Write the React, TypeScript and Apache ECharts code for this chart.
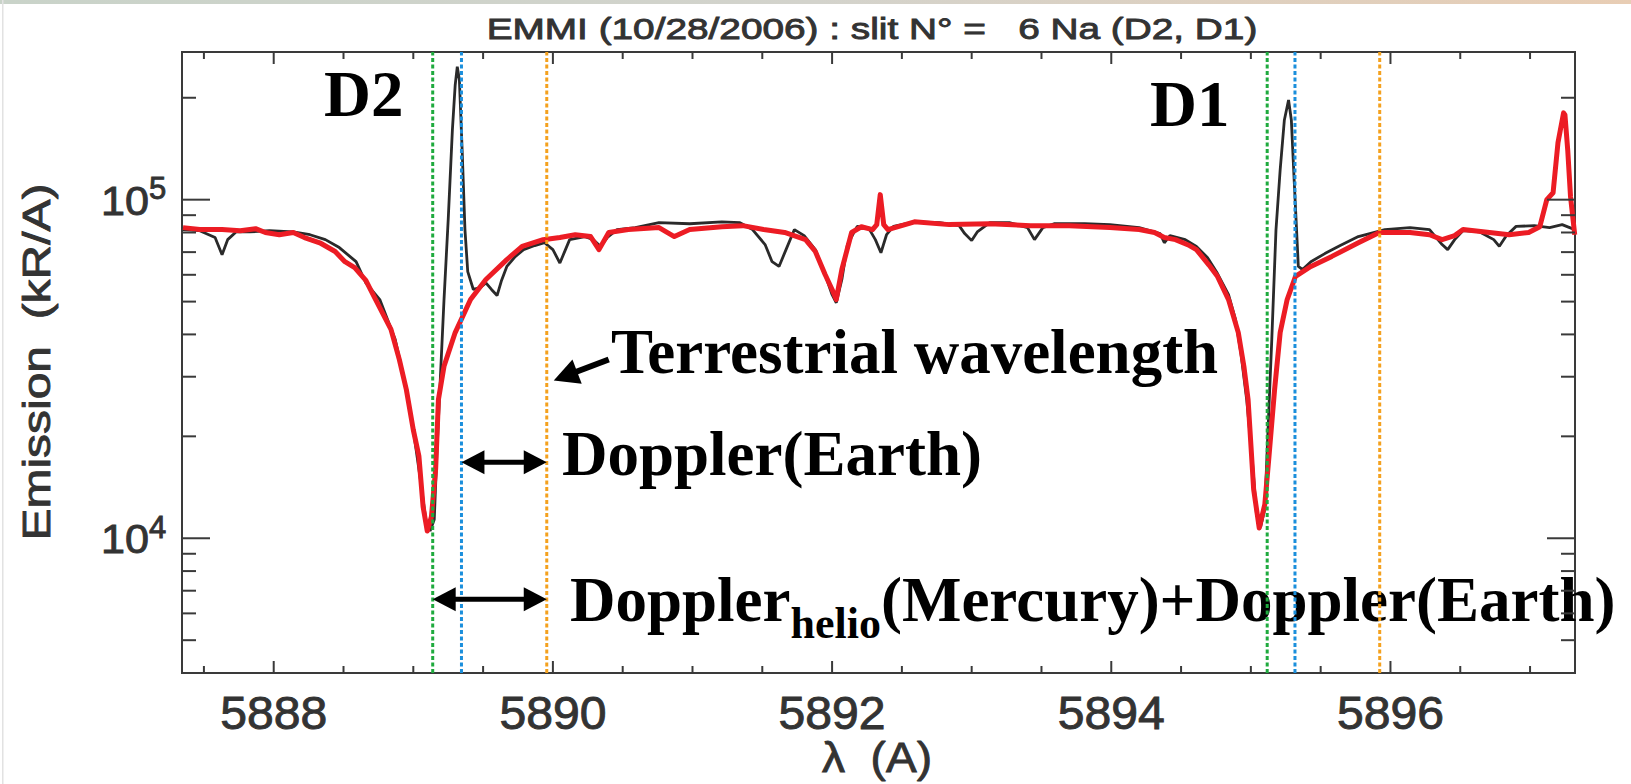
import React, { useEffect, useRef } from "react";
import * as echarts from "echarts";

// ---- axis extents (data units) ----
const X_MIN = 5887.343;
const X_MAX = 5897.322;
const Y_MIN = 4000;
const Y_MAX = 273000;

// ---- observed spectrum (black) [wavelength Å, emission kR/Å] ----
const observedSpectrum: [number, number][] = [
  [5887.35, 81600], [5887.47, 81000], [5887.58, 77300], [5887.63, 68800], [5887.67, 76200],
  [5887.73, 80300], [5887.83, 80300], [5887.97, 81000], [5888.14, 80300], [5888.26, 78800],
  [5888.37, 76200], [5888.47, 72200], [5888.59, 65600], [5888.66, 56800], [5888.76, 50700],
  [5888.87, 38700], [5888.94, 28850], [5889.0, 20900], [5889.05, 14950], [5889.09, 11350],
  [5889.12, 10500], [5889.15, 11350], [5889.17, 18300], [5889.19, 27500], [5889.22, 50700],
  [5889.25, 87300], [5889.28, 160800], [5889.3, 218000], [5889.315, 247000], [5889.33, 226000],
  [5889.35, 140000], [5889.37, 81600], [5889.39, 61300], [5889.43, 54300], [5889.48, 55000],
  [5889.52, 56800], [5889.56, 54300], [5889.6, 52100], [5889.63, 57400], [5889.67, 63500],
  [5889.73, 67900], [5889.79, 71200], [5889.87, 73200], [5889.94, 74600], [5890.0, 71200],
  [5890.05, 65000], [5890.09, 71200], [5890.12, 76200], [5890.23, 77800], [5890.29, 76200],
  [5890.34, 72800], [5890.39, 77300], [5890.46, 81600], [5890.59, 82700], [5890.76, 85500],
  [5890.98, 84900], [5891.21, 86000], [5891.34, 85500], [5891.43, 81600], [5891.52, 73700],
  [5891.57, 65600], [5891.62, 63500], [5891.67, 71200], [5891.73, 81600], [5891.8, 78300],
  [5891.88, 71200], [5891.95, 60100], [5892.0, 52400], [5892.03, 49600], [5892.07, 58100],
  [5892.11, 73700], [5892.18, 83400], [5892.26, 82700], [5892.31, 76200], [5892.35, 69700],
  [5892.39, 78800], [5892.44, 83400], [5892.59, 86000], [5892.77, 85500], [5892.91, 83800],
  [5892.95, 79400], [5893.0, 75700], [5893.04, 80300], [5893.13, 85500], [5893.27, 85500],
  [5893.4, 82700], [5893.45, 76200], [5893.51, 82700], [5893.59, 84900], [5893.81, 84900],
  [5893.99, 84400], [5894.2, 82700], [5894.35, 79400], [5894.38, 74600], [5894.42, 78300],
  [5894.53, 76200], [5894.61, 72800], [5894.69, 67400], [5894.76, 60600], [5894.84, 52400],
  [5894.89, 44300], [5894.93, 34900], [5894.97, 25700], [5895.01, 17100], [5895.04, 11800],
  [5895.07, 10800], [5895.1, 12200], [5895.12, 19600], [5895.15, 38700], [5895.18, 81600],
  [5895.21, 122600], [5895.24, 172000], [5895.27, 197000], [5895.29, 172000], [5895.31, 114600],
  [5895.34, 63500], [5895.37, 62200], [5895.43, 65600], [5895.53, 69300], [5895.64, 73200],
  [5895.77, 77800], [5895.96, 81600], [5896.14, 82700], [5896.28, 81600], [5896.37, 73700],
  [5896.41, 71200], [5896.46, 76200], [5896.52, 81000], [5896.64, 80300], [5896.74, 76200],
  [5896.78, 72800], [5896.83, 78300], [5896.9, 83400], [5897.03, 83800], [5897.14, 82700],
  [5897.23, 84400], [5897.32, 81600],
];

// ---- model spectrum (red) ----
const modelSpectrum: [number, number][] = [
  [5887.35, 82700], [5887.47, 81600], [5887.63, 81600], [5887.76, 81000], [5887.87, 82100],
  [5887.94, 80000], [5888.04, 78800], [5888.14, 80000], [5888.22, 77300], [5888.33, 74600],
  [5888.44, 70300], [5888.51, 65600], [5888.58, 63000], [5888.66, 57800], [5888.73, 50700],
  [5888.84, 41400], [5888.9, 33700], [5888.95, 27500], [5889.0, 20900], [5889.04, 17500],
  [5889.07, 12400], [5889.1, 10500], [5889.13, 11600], [5889.16, 16000], [5889.18, 25700],
  [5889.22, 32200], [5889.3, 40500], [5889.41, 50700], [5889.52, 58100], [5889.67, 66500],
  [5889.78, 72800], [5889.93, 76200], [5890.05, 77300], [5890.16, 78800], [5890.27, 77800],
  [5890.33, 71200], [5890.4, 80000], [5890.54, 81600], [5890.76, 82700], [5890.87, 77800],
  [5890.98, 81600], [5891.21, 83200], [5891.36, 83800], [5891.51, 81600], [5891.66, 80000],
  [5891.81, 76200], [5891.88, 70300], [5891.95, 60100], [5892.0, 54300], [5892.03, 50700],
  [5892.07, 62200], [5892.14, 80000], [5892.21, 83200], [5892.29, 81600], [5892.32, 84400],
  [5892.345, 103500], [5892.37, 84400], [5892.4, 81600], [5892.59, 86000], [5892.84, 84400],
  [5893.13, 84900], [5893.42, 83800], [5893.7, 83800], [5893.99, 82700], [5894.2, 81600],
  [5894.31, 80000], [5894.38, 77300], [5894.46, 76200], [5894.56, 73200], [5894.61, 71200],
  [5894.7, 64100], [5894.76, 59400], [5894.84, 50700], [5894.91, 40500], [5894.95, 32200],
  [5894.98, 25700], [5895.02, 13950], [5895.06, 10720], [5895.1, 12600], [5895.13, 17500],
  [5895.17, 27500], [5895.21, 40500], [5895.26, 50700], [5895.32, 59400], [5895.43, 63500],
  [5895.58, 68000], [5895.77, 74600], [5895.92, 80000], [5896.14, 80000], [5896.28, 78800],
  [5896.37, 76200], [5896.46, 78300], [5896.52, 81600], [5896.71, 80000], [5896.85, 78800],
  [5896.99, 80000], [5897.07, 83200], [5897.12, 100000], [5897.165, 104800], [5897.2, 147300],
  [5897.24, 180500], [5897.25, 178000], [5897.27, 140000], [5897.29, 102000], [5897.32, 78800],
];

// ---- reference wavelengths (vertical dotted lines) ----
const mercuryDopplerWavelengths = [5889.139, 5895.117];
const earthDopplerWavelengths = [5889.345, 5895.316];
const terrestrialWavelengths = [5889.956, 5895.923];

// ---- ticks ----
const xTickValues = [
  5887.5, 5888, 5888.5, 5889, 5889.5, 5890, 5890.5, 5891, 5891.5, 5892,
  5892.5, 5893, 5893.5, 5894, 5894.5, 5895, 5895.5, 5896, 5896.5, 5897,
];
const xTickLabels = ["5888", "5890", "5892", "5894", "5896"];
const yMinorTickValues = [5000, 6000, 7000, 8000, 9000, 20000, 30000, 40000, 50000, 60000, 70000, 80000, 90000, 200000];
const yMajorTickValues = [10000, 100000];
const yMajorExponents = ["4", "5"];

// ---- annotation arrows [x1, y1, x2, y2, doubleHeaded] ----
const arrowSegments: number[][] = [
  [5889.345, 16760, 5889.956, 16760, 1],
  [5889.139, 6607, 5889.956, 6607, 1],
  [5890.4, 33740, 5890.006, 29250, 0],
];

const AXIS = "#3a3a3a";
const TEXT = "#333333";
const SANS = "'Liberation Sans', Arial, sans-serif";
const SERIF = "'Liberation Serif', 'Times New Roman', serif";
const LINE_COLORS = ["#1faa3e", "#1b8fdc", "#f4a11e"];

export default function App() {
  const ref = useRef<HTMLDivElement>(null);

  useEffect(() => {
    const el = ref.current!;
    const chart = echarts.init(el, null, { renderer: "svg" });
    const ctx = document.createElement("canvas").getContext("2d")!;
    const measure = (text: string, font: string) => {
      ctx.font = font;
      return ctx.measureText(text).width;
    };

    const tickFont = `46px ${SANS}`;
    const tickScale = 107 / measure("5892", tickFont);
    const tenFont = `40px ${SANS}`;
    const tenScale = 48 / measure("10", tenFont);
    const expFont = `31px ${SANS}`;

    const titleText = "EMMI (10/28/2006) : slit N° =   6 Na (D2, D1)";
    const titleFont = `30px ${SANS}`;
    const titleScale = 771 / measure(titleText, titleFont);

    const yTitle = "Emission  (kR/A)";
    const yTitleFont = `39px ${SANS}`;
    const yTitleScale = 357 / measure(yTitle, yTitleFont);

    const xTitle = "λ  (A)";
    const xTitleFont = `42px ${SANS}`;
    const xTitleScale = 110 / measure(xTitle, xTitleFont);

    const bigSerif = `bold 63px ${SERIF}`;
    const subSerif = `bold 44px ${SERIF}`;
    const helioX0 = 570;
    const wDoppler = measure("Doppler", bigSerif);
    const wHelio = measure("helio", subSerif);

    const heavy = { stroke: TEXT, lineWidth: 0.9 };

    const txt = (x: number, y: number, text: string, font: string, align: string, extra: any = {}, styleExtra: any = {}) => ({
      type: "text",
      x,
      y,
      ...extra,
      style: {
        text,
        font,
        fill: "#000",
        align,
        textAlign: align,
        verticalAlign: "middle",
        textVerticalAlign: "middle",
        ...styleExtra,
      },
      silent: true,
    });

    const xTickSeries = {
      type: "custom",
      coordinateSystem: "cartesian2d",
      data: xTickValues.map((v) => [v, Y_MIN]),
      encode: { x: 0, y: 1 },
      clip: false,
      silent: true,
      z: 8,
      renderItem: (params: any, api: any) => {
        const v = api.value(0);
        const b = api.coord([v, Y_MIN]);
        const t = api.coord([v, Y_MAX]);
        const li = xTickLabels.indexOf(String(v));
        const major = li >= 0;
        const len = major ? 12 : 7;
        const children: any[] = [
          { type: "line", shape: { x1: b[0], y1: b[1], x2: b[0], y2: b[1] - len }, style: { stroke: AXIS, lineWidth: 2 } },
          { type: "line", shape: { x1: t[0], y1: t[1], x2: t[0], y2: t[1] + len }, style: { stroke: AXIS, lineWidth: 2 } },
        ];
        if (major) {
          children.push({
            type: "text",
            x: b[0],
            y: b[1] + 40,
            scaleX: tickScale,
            style: { text: xTickLabels[li], font: tickFont, fill: TEXT, ...heavy, align: "center", textAlign: "center", verticalAlign: "middle", textVerticalAlign: "middle" },
          });
        }
        return { type: "group", children };
      },
    };

    const yTickSeries = {
      type: "custom",
      coordinateSystem: "cartesian2d",
      data: [...yMinorTickValues, ...yMajorTickValues].map((v) => [X_MIN, v]),
      encode: { x: 0, y: 1 },
      clip: false,
      silent: true,
      z: 8,
      renderItem: (params: any, api: any) => {
        const v = api.value(1);
        const l = api.coord([X_MIN, v]);
        const r = api.coord([X_MAX, v]);
        const mi = yMajorTickValues.indexOf(v);
        const major = mi >= 0;
        const len = major ? 28 : 14;
        const children: any[] = [
          { type: "line", shape: { x1: l[0], y1: l[1], x2: l[0] + len, y2: l[1] }, style: { stroke: AXIS, lineWidth: 2 } },
          { type: "line", shape: { x1: r[0], y1: r[1], x2: r[0] - len, y2: r[1] }, style: { stroke: AXIS, lineWidth: 2 } },
        ];
        if (major) {
          children.push({
            type: "text",
            x: l[0] - 33,
            y: l[1] + 1,
            scaleX: tenScale,
            style: { text: "10", font: tenFont, fill: TEXT, ...heavy, align: "right", textAlign: "right", verticalAlign: "middle", textVerticalAlign: "middle" },
          });
          children.push({
            type: "text",
            x: l[0] - 33,
            y: l[1] - 11,
            style: { text: yMajorExponents[mi], font: expFont, fill: TEXT, ...heavy, align: "left", textAlign: "left", verticalAlign: "middle", textVerticalAlign: "middle" },
          });
        }
        return { type: "group", children };
      },
    };

    const refLineSeries = {
      type: "custom",
      coordinateSystem: "cartesian2d",
      data: [
        ...mercuryDopplerWavelengths.map((w) => [w, Y_MIN, 0]),
        ...earthDopplerWavelengths.map((w) => [w, Y_MIN, 1]),
        ...terrestrialWavelengths.map((w) => [w, Y_MIN, 2]),
      ],
      encode: { x: 0, y: 1 },
      clip: false,
      silent: true,
      z: 6,
      renderItem: (params: any, api: any) => {
        const w = api.value(0);
        const k = api.value(2);
        const b = api.coord([w, Y_MIN]);
        const t = api.coord([w, Y_MAX]);
        return {
          type: "line",
          shape: { x1: b[0], y1: b[1], x2: t[0], y2: t[1] },
          style: { stroke: LINE_COLORS[k], lineWidth: 3, lineDash: [4, 2.5] },
        };
      },
    };

    const arrowSeries = {
      type: "custom",
      coordinateSystem: "cartesian2d",
      data: arrowSegments,
      encode: { x: 0, y: 1 },
      clip: false,
      silent: true,
      z: 9,
      renderItem: (params: any, api: any) => {
        const p1 = api.coord([api.value(0), api.value(1)]);
        const p2 = api.coord([api.value(2), api.value(3)]);
        const both = api.value(4) === 1;
        const dx = p2[0] - p1[0];
        const dy = p2[1] - p1[1];
        const L = Math.hypot(dx, dy);
        const ux = dx / L;
        const uy = dy / L;
        const nx = -uy;
        const ny = ux;
        const hl = both ? 23 : 25;
        const hw = both ? 12 : 13;
        const head = (tip: number[], sx: number, sy: number) => ({
          type: "polygon",
          shape: {
            points: [
              [tip[0], tip[1]],
              [tip[0] - sx * hl + nx * hw, tip[1] - sy * hl + ny * hw],
              [tip[0] - sx * hl - nx * hw, tip[1] - sy * hl - ny * hw],
            ],
          },
          style: { fill: "#000" },
        });
        const s1 = both ? [p1[0] + ux * hl * 0.8, p1[1] + uy * hl * 0.8] : p1;
        const s2 = [p2[0] - ux * hl * 0.8, p2[1] - uy * hl * 0.8];
        const children: any[] = [
          { type: "line", shape: { x1: s1[0], y1: s1[1], x2: s2[0], y2: s2[1] }, style: { stroke: "#000", lineWidth: both ? 5 : 6 } },
          head(p2, ux, uy),
        ];
        if (both) children.push(head(p1, -ux, -uy));
        return { type: "group", children };
      },
    };

    const option: any = {
      animation: false,
      backgroundColor: "#ffffff",
      grid: {
        left: 182,
        top: 52,
        width: 1393,
        height: 621,
        show: true,
        borderColor: AXIS,
        borderWidth: 2,
        backgroundColor: "transparent",
        containLabel: false,
      },
      xAxis: {
        type: "value",
        min: X_MIN,
        max: X_MAX,
        show: false,
        splitLine: { show: false },
      },
      yAxis: {
        type: "log",
        logBase: 10,
        min: Y_MIN,
        max: Y_MAX,
        show: false,
        splitLine: { show: false },
      },
      series: [
        {
          name: "observed",
          type: "line",
          data: observedSpectrum,
          showSymbol: false,
          symbol: "none",
          silent: true,
          z: 3,
          lineStyle: { color: "#2a2a2a", width: 2.8 },
          itemStyle: { color: "#2a2a2a" },
        },
        {
          name: "model",
          type: "line",
          data: modelSpectrum,
          showSymbol: false,
          symbol: "none",
          silent: true,
          z: 4,
          lineStyle: { color: "#ec1c24", width: 5, join: "round" },
          itemStyle: { color: "#ec1c24" },
        },
        refLineSeries,
        xTickSeries,
        yTickSeries,
        arrowSeries,
      ],
      graphic: [
        {
          type: "rect",
          shape: { x: 0, y: 0, width: 1631, height: 4 },
          style: {
            fill: new echarts.graphic.LinearGradient(0, 0, 1, 0, [
              { offset: 0, color: "#c9d3c9" },
              { offset: 0.5, color: "#d3d3cc" },
              { offset: 1, color: "#e8cdb4" },
            ]),
          },
          silent: true,
        },
        {
          type: "rect",
          shape: { x: 2, y: 0, width: 1.5, height: 784 },
          style: { fill: "#e2e2e2" },
          silent: true,
        },
        txt(872, 29, titleText, titleFont, "center", { scaleX: titleScale }, { fill: TEXT, ...heavy }),
        txt(36, 362, yTitle, yTitleFont, "center", { rotation: Math.PI / 2, scaleX: yTitleScale }, { fill: TEXT, ...heavy }),
        txt(877, 757, xTitle, xTitleFont, "center", { scaleX: xTitleScale }, { fill: TEXT, ...heavy }),
        txt(324, 94, "D2", `bold 65px ${SERIF}`, "left"),
        txt(1150, 104, "D1", `bold 65px ${SERIF}`, "left"),
        txt(611, 352, "Terrestrial wavelength", bigSerif, "left"),
        txt(562, 454, "Doppler(Earth)", bigSerif, "left"),
        txt(helioX0, 600, "Doppler", bigSerif, "left"),
        txt(helioX0 + wDoppler, 623, "helio", subSerif, "left"),
        txt(helioX0 + wDoppler + wHelio, 600, "(Mercury)+Doppler(Earth)", bigSerif, "left"),
      ],
    };

    chart.setOption(option);
    return () => chart.dispose();
  }, []);

  return (
    <div
      ref={ref}
      style={{ position: "absolute", left: 0, top: 0, width: 1631, height: 784, background: "#fff" }}
    />
  );
}
